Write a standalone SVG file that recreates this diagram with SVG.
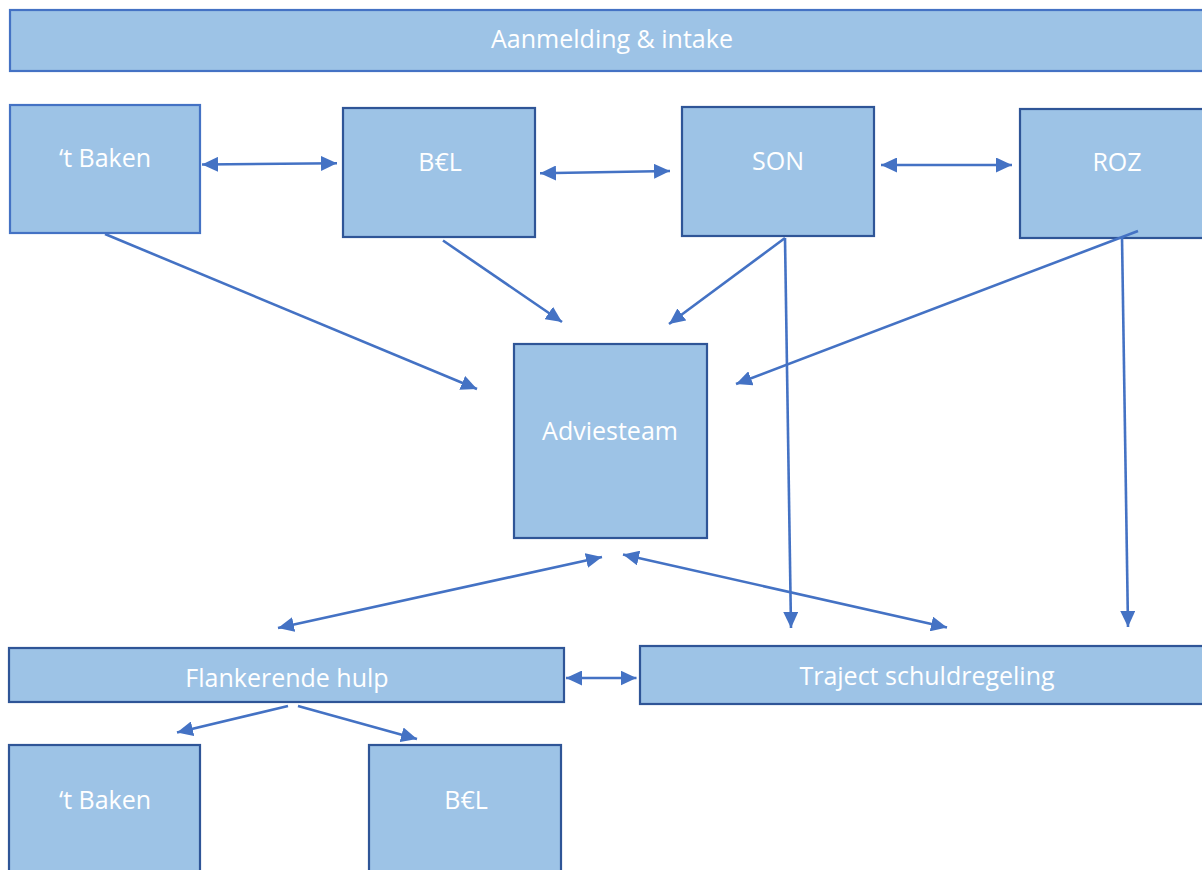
<svg xmlns="http://www.w3.org/2000/svg" width="1202" height="870" viewBox="0 0 1202 870">
<style>
.box{fill:#9DC3E6;stroke:#2F5597;stroke-width:2.2}
.lt{stroke:#4472C4}
.lbl{font-family:"Open Sans","Noto Sans",sans-serif;font-size:25px;fill:#FFFFFF;text-anchor:middle}
.c{stroke:#4472C4;stroke-width:2.6;fill:none}
.e{marker-end:url(#ah)}
.d{marker-start:url(#ah);marker-end:url(#ah)}
</style>
<defs>
<marker id="ah" markerUnits="userSpaceOnUse" markerWidth="16" markerHeight="15" viewBox="0 0 16 15" refX="16" refY="7.5" orient="auto-start-reverse">
<path d="M0,0 L16,7.5 L0,15 Z" fill="#4472C4"/>
</marker>
</defs>
<rect width="1202" height="870" fill="#FFFFFF"/>
<g id="aanmelding"><rect class="box lt" x="10" y="10" width="1200" height="61"/><text class="lbl" x="612" y="48">Aanmelding &amp; intake</text></g>
<g id="baken-top"><rect class="box lt" x="10" y="105" width="190" height="128"/><text class="lbl" x="105" y="167">‘t Baken</text></g>
<g id="bel-top"><rect class="box" x="343" y="108" width="192" height="129"/><text class="lbl" x="440" y="171">B€L</text></g>
<g id="son"><rect class="box" x="682" y="107" width="192" height="129"/><text class="lbl" x="778" y="170">SON</text></g>
<g id="roz"><rect class="box" x="1020" y="109" width="190" height="129"/><text class="lbl" x="1117" y="171">ROZ</text></g>
<g id="adviesteam"><rect class="box" x="514" y="344" width="193" height="194"/><text class="lbl" x="610" y="440">Adviesteam</text></g>
<g id="flankerende"><rect class="box" x="9" y="648" width="555" height="54"/><text class="lbl" x="287" y="687">Flankerende hulp</text></g>
<g id="traject"><rect class="box" x="640" y="646" width="570" height="58"/><text class="lbl" x="927" y="685">Traject schuldregeling</text></g>
<g id="baken-bottom"><rect class="box" x="9" y="745" width="191" height="140"/><text class="lbl" x="105" y="809">‘t Baken</text></g>
<g id="bel-bottom"><rect class="box" x="369" y="745" width="192" height="140"/><text class="lbl" x="466" y="809">B€L</text></g>
<g id="connectors">
<line class="c d" x1="202" y1="164.5" x2="337" y2="163.3"/>
<line class="c d" x1="540" y1="173.3" x2="670" y2="171"/>
<line class="c d" x1="881" y1="165" x2="1012" y2="165"/>
<line class="c e" x1="105" y1="234" x2="477" y2="389"/>
<line class="c e" x1="443" y1="240.5" x2="562" y2="322"/>
<line class="c e" x1="785" y1="238" x2="669" y2="324"/>
<line class="c e" x1="785" y1="238" x2="791" y2="628"/>
<line class="c e" x1="1138" y1="231" x2="736" y2="384"/>
<line class="c e" x1="1122" y1="237" x2="1128" y2="627"/>
<line class="c d" x1="602" y1="557" x2="278" y2="628"/>
<line class="c d" x1="623" y1="554.5" x2="947" y2="627.5"/>
<line class="c d" x1="566" y1="678" x2="636.5" y2="678"/>
<line class="c e" x1="288" y1="706" x2="177" y2="732.5"/>
<line class="c e" x1="298" y1="706" x2="417" y2="739"/>
</g>
</svg>
